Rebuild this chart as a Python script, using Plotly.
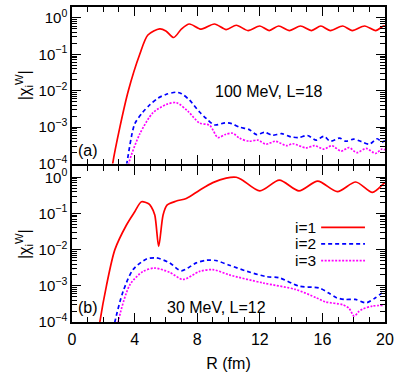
import plotly.graph_objects as go
from plotly.subplots import make_subplots

# ---------------- data ----------------
# Top panel: 100 MeV, L=18
top_r1 = [2.45, 2.6, 3.06, 3.6, 4.33, 4.85, 5.6, 6.0, 6.5, 7.0, 7.5, 8.25, 9.1, 9.85, 10.5,
          11.25, 12.0, 12.6, 13.2, 13.9, 14.6, 15.3, 15.9, 16.5, 17.3, 17.9, 18.7, 19.4, 19.9, 20.0]
top_i1 = [3.0e-5, 1.0e-4, 1.0e-3, 1.0e-2, 1.0e-1, 0.34, 0.50, 0.44, 0.29, 0.50, 0.68, 0.49, 0.68, 0.48, 0.63,
          0.45, 0.60, 0.45, 0.60, 0.45, 0.60, 0.45, 0.60, 0.45, 0.60, 0.45, 0.60, 0.45, 0.60, 0.59]

top_r2 = [3.4, 3.5, 4.0, 4.5, 5.0, 5.5, 6.0, 6.65, 7.0, 7.5, 8.15, 8.6, 9.1, 9.8, 10.2, 10.7,
          11.3, 11.8, 12.3, 12.8, 13.4, 14.0, 14.5, 15.05, 15.6, 16.1, 16.5, 17.1, 17.5, 18.0,
          18.5, 19.0, 19.5, 19.8, 20.0]
top_i2 = [6.0e-5, 1.0e-4, 1.2e-3, 2.5e-3, 4.2e-3, 6.3e-3, 7.9e-3, 9.1e-3, 8.3e-3, 5.6e-3, 2.6e-3, 1.7e-3,
          1.15e-3, 1.32e-3, 1.25e-3, 1.0e-3, 8.7e-4, 6.2e-4, 7.2e-4, 6.0e-4, 6.6e-4, 5.4e-4, 5.2e-4,
          5.9e-4, 4.4e-4, 5.6e-4, 4.1e-4, 5.0e-4, 4.1e-4, 4.7e-4, 4.0e-4, 3.4e-4, 4.8e-4, 3.9e-4, 4.2e-4]

top_r3 = [3.55, 3.65, 4.33, 5.18, 6.03, 6.67, 7.4, 8.15, 8.8, 9.32, 9.8, 10.27, 10.7, 11.3, 11.87,
          12.4, 13.0, 13.7, 14.1, 14.95, 15.5, 16.1, 16.6, 17.2, 17.7, 18.2, 18.8, 19.4, 19.8, 20.0]
top_i3 = [6.0e-5, 1.1e-4, 6.5e-4, 2.5e-3, 4.2e-3, 4.7e-3, 2.75e-3, 1.3e-3, 1.12e-3, 5.2e-4, 6.3e-4,
          6.8e-4, 5.0e-4, 4.1e-4, 4.4e-4, 3.4e-4, 4.1e-4, 3.1e-4, 3.5e-4, 2.7e-4, 3.1e-4, 2.5e-4,
          3.1e-4, 2.2e-4, 2.75e-4, 2.0e-4, 2.6e-4, 1.9e-4, 2.5e-4, 2.4e-4]

# Bottom panel: 30 MeV, L=12
bot_r1 = [1.6, 1.78, 2.2, 2.74, 3.48, 4.0, 4.44, 4.9, 5.07, 5.29, 5.54, 5.82, 6.07, 6.67, 7.3, 8.15,
          9.0, 9.85, 10.5, 10.9, 12.0, 13.25, 14.5, 15.7, 16.96, 18.13, 19.2, 19.94, 20.0]
bot_i1 = [2.5e-5, 1.0e-4, 1.0e-3, 1.0e-2, 4.8e-2, 1.1e-1, 2.1e-1, 1.85e-1, 1.5e-1, 9.1e-2, 1.23e-2, 9.1e-2,
          1.7e-1, 2.2e-1, 2.6e-1, 4.4e-1, 7.1e-1, 9.5e-1, 1.0, 8.3e-1, 4.2e-1, 8.3e-1, 4.2e-1,
          7.8e-1, 4.0e-1, 7.4e-1, 3.8e-1, 6.8e-1, 7.0e-1]

bot_r2 = [2.6, 2.74, 3.27, 3.9, 4.76, 5.4, 6.24, 6.98, 7.94, 8.6, 9.2, 10.06, 11.2, 12.4, 13.25,
          14.5, 15.8, 16.4, 16.9, 17.4, 18.1, 18.8, 19.4, 19.94]
bot_i2 = [4.0e-5, 1.0e-4, 7.1e-4, 2.8e-3, 5.5e-3, 5.9e-3, 4.3e-3, 2.6e-3, 4.3e-3, 5.1e-3, 5.0e-3,
          3.7e-3, 2.5e-3, 1.8e-3, 1.66e-3, 9.8e-4, 8.7e-4, 6.3e-4, 4.7e-4, 4.2e-4, 4.2e-4, 3.4e-4,
          4.7e-4, 7.1e-4]

bot_r3 = [2.85, 2.95, 3.7, 4.54, 5.29, 6.24, 7.1, 8.15, 9.0, 10.06, 12.2, 14.3, 15.6, 16.2, 17.3,
          17.7, 18.03, 18.3, 18.55, 19.2, 19.94]
bot_i3 = [4.0e-5, 1.0e-4, 1.07e-3, 2.5e-3, 3.1e-3, 2.35e-3, 1.5e-3, 2.5e-3, 2.8e-3, 2.0e-3, 1.2e-3,
          7.9e-4, 4.7e-4, 3.6e-4, 3.0e-4, 2.4e-4, 1.45e-4, 1.9e-4, 2.25e-4, 2.75e-4, 2.9e-4]

y_tick_vals = [1e-4, 1e-3, 1e-2, 1e-1, 1e0]
y_tick_text = ["10<sup>\u22124</sup>", "10<sup>\u22123</sup>", "10<sup>\u22122</sup>",
               "10<sup>\u22121</sup>", "10<sup>0</sup>"]
x_tick_vals = [0, 4, 8, 12, 16, 20]
series_names = ["i=1", "i=2", "i=3"]

# ---------------- styling ----------------
FONT = "Liberation Sans, Arial, Helvetica, sans-serif"
colors = ["#ff0000", "#0000ff", "#ff00ff"]
dashes = ["solid", "4px,3px", "2px,1.5px"]

fig = make_subplots(rows=2, cols=1, shared_xaxes=True, vertical_spacing=0.0)

panels = [
    (1, [(top_r1, top_i1), (top_r2, top_i2), (top_r3, top_i3)]),
    (2, [(bot_r1, bot_i1), (bot_r2, bot_i2), (bot_r3, bot_i3)]),
]
for row, series in panels:
    for k, (rx, vy) in enumerate(series):
        fig.add_trace(go.Scatter(
            x=rx, y=vy, mode="lines", name=series_names[k], showlegend=False,
            line=dict(color=colors[k], width=1.7, dash=dashes[k], shape="spline", smoothing=0.8),
        ), row=row, col=1)

minor_log = [m * 10 ** e for e in range(-5, 1) for m in range(2, 10)]

for row in (1, 2):
    fig.update_yaxes(
        type="log", range=[-4, 0.3],
        tickmode="array", tickvals=y_tick_vals, ticktext=y_tick_text,
        ticks="inside", ticklen=9, tickwidth=1.3, tickcolor="black",
        minor=dict(tickmode="array", tickvals=minor_log, ticks="inside", ticklen=5,
                   tickwidth=1, tickcolor="black", showgrid=False),
        showline=True, linecolor="black", linewidth=1.5, mirror="ticks",
        showgrid=False, zeroline=False,
        tickfont=dict(family=FONT, size=15, color="black"),
        title=dict(text="|\u03c7<sub>i</sub><sup>W</sup>|", font=dict(family=FONT, size=16, color="black"),
                   standoff=4),
        row=row, col=1)
    fig.update_xaxes(
        range=[0, 20], tickmode="array", tickvals=x_tick_vals,
        ticks="inside", ticklen=9, tickwidth=1.3, tickcolor="black",
        minor=dict(dtick=1, ticks="inside", ticklen=5, tickwidth=1, tickcolor="black", showgrid=False),
        showline=True, linecolor="black", linewidth=1.5, mirror="ticks",
        showgrid=False, zeroline=False,
        tickfont=dict(family=FONT, size=16, color="black"),
        row=row, col=1)

fig.update_xaxes(showticklabels=False, row=1, col=1)
fig.update_xaxes(ticklabelstandoff=2,
                 title=dict(text="R (fm)", font=dict(family=FONT, size=16, color="black"), standoff=11),
                 row=2, col=1)

fig.update_layout(
    yaxis=dict(domain=[0.503, 1.0]),
    yaxis2=dict(domain=[0.0, 0.494]),
)

ann_font = dict(family=FONT, size=16, color="black")
annotations = [
    dict(text="100 MeV, L=18", xref="x domain", yref="y domain", x=0.63, y=0.462),
    dict(text="(a)", xref="x domain", yref="y domain", x=0.051, y=0.082),
    dict(text="30 MeV, L=12", xref="x2 domain", yref="y2 domain", x=0.462, y=0.094),
    dict(text="(b)", xref="x2 domain", yref="y2 domain", x=0.051, y=0.094),
]
for a in annotations:
    fig.add_annotation(showarrow=False, font=ann_font, xanchor="center", yanchor="middle", **a)

# legend (text on the left, line sample on the right, as in the original)
legend_y = [0.608, 0.502, 0.394]
leg_font = dict(family=FONT, size=15.5, color="black")
for k in range(3):
    fig.add_annotation(text=series_names[k], xref="x2 domain", yref="y2 domain",
                       x=0.782, y=legend_y[k], xanchor="right", yanchor="middle",
                       showarrow=False, font=leg_font, borderpad=0)
    fig.add_shape(type="line", xref="x2 domain", yref="y2 domain",
                  x0=0.796, x1=0.936, y0=legend_y[k], y1=legend_y[k],
                  line=dict(color=colors[k], width=1.7, dash=dashes[k]))

fig.update_layout(
    width=399, height=375,
    margin=dict(l=72, r=13, t=5, b=52),
    paper_bgcolor="white", plot_bgcolor="white",
    font=dict(family=FONT, size=16, color="black"),
    showlegend=False, hovermode=False,
)

fig.write_html("out.html", config={"displayModeBar": False},
               post_script="document.body.style.margin='0';")
